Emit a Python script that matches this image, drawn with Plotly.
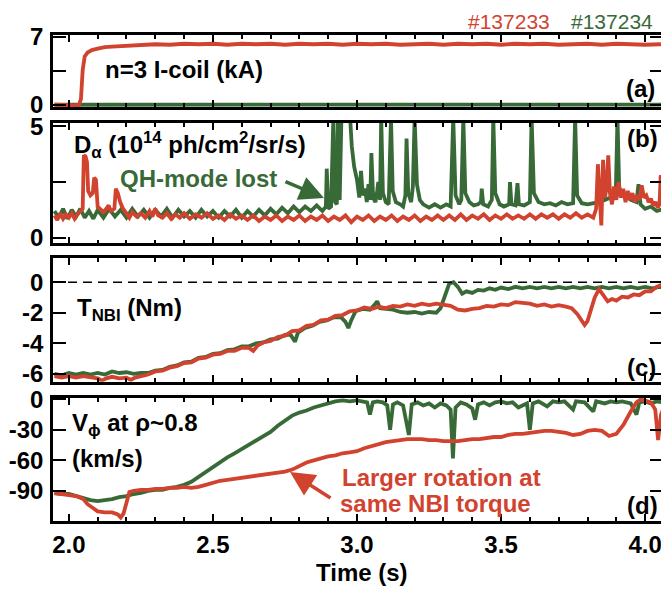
import plotly.graph_objects as go

RED = "#d2432f"
GREEN = "#386a38"
FONT = "Liberation Sans"

# ---------------- panel (a): n=3 I-coil current (kA) ----------------
a_red_t = [1.95, 1.975, 2.0, 2.02, 2.035, 2.042, 2.048, 2.055, 2.065, 2.08,
           2.1, 2.125, 2.15, 2.2, 2.25, 2.3, 2.35, 2.4, 2.45, 2.5,
           2.55, 2.6, 2.65, 2.7, 2.75, 2.8, 2.85, 2.9, 2.95, 3.0,
           3.05, 3.1, 3.15, 3.2, 3.25, 3.3, 3.35, 3.4, 3.45, 3.5,
           3.55, 3.6, 3.65, 3.7, 3.75, 3.8, 3.85, 3.9, 3.95, 4.0,
           4.05, 4.07]
a_red_v = [0.03, -0.02, 0.02, -0.03, 0.01, 0.6, 3.6, 5.0, 5.4, 5.65,
           5.8, 5.95, 6.0, 6.1, 6.2, 6.25, 6.2, 6.3, 6.25, 6.3,
           6.2, 6.3, 6.25, 6.3, 6.2, 6.3, 6.25, 6.3, 6.2, 6.3,
           6.25, 6.3, 6.2, 6.25, 6.3, 6.2, 6.3, 6.25, 6.3, 6.2,
           6.3, 6.25, 6.3, 6.2, 6.25, 6.3, 6.2, 6.3, 6.25, 6.2,
           6.25, 6.2]
a_green_t = [1.95, 2.1, 2.3, 2.5, 2.7, 2.9, 3.1, 3.3, 3.5, 3.7, 3.9, 4.07]
a_green_v = [0.03, 0.05, 0.04, 0.06, 0.05, 0.04, 0.06, 0.05, 0.04, 0.06, 0.05, 0.05]

# ---------------- panel (b): D-alpha ----------------
b_red = [(1.95,1.0),(1.96,0.8),(1.97,1.1),(1.98,0.85),(1.99,1.05),(2.0,0.9),(2.01,1.1),(2.02,0.85),
         (2.03,1.05),(2.04,1.2),(2.048,1.3),(2.052,3.7),(2.058,3.65),(2.063,3.4),(2.067,2.1),(2.075,1.9),
         (2.083,2.0),(2.088,2.7),(2.094,2.6),(2.1,1.4),(2.11,1.25),(2.12,1.15),(2.13,1.3),(2.138,1.45),
         (2.146,1.2),(2.158,1.3),(2.163,2.2),(2.17,2.0),(2.178,1.6),(2.188,1.3),(2.2,1.1),(2.21,0.9),
         (2.22,1.15),(2.235,0.95),(2.25,1.1),(2.265,0.9),(2.28,1.2),(2.29,0.95),(2.3,1.3),(2.31,1.0),
         (2.325,0.9),(2.34,1.1),(2.355,0.85),(2.37,1.05),(2.385,0.9),(2.4,1.1),(2.42,0.85),(2.44,1.05),
         (2.46,0.9),(2.48,1.1),(2.5,0.85),(2.52,1.0),(2.54,0.8),(2.56,1.05),(2.58,0.85),(2.6,1.0),
         (2.62,0.8),(2.64,1.0),(2.66,0.75),(2.68,0.95),(2.7,0.8),(2.72,1.0),(2.74,0.75),(2.76,0.95),
         (2.78,0.8),(2.8,1.0),(2.82,0.75),(2.84,0.95),(2.86,0.8),(2.88,1.0),(2.9,0.75),(2.92,0.95),
         (2.94,0.8),(2.96,1.0),(2.98,0.7),(3.0,0.95),(3.02,0.8),(3.04,1.0),(3.06,0.75),(3.08,0.95),
         (3.1,0.8),(3.12,1.0),(3.14,0.75),(3.16,0.95),(3.18,0.8),(3.2,1.0),(3.22,0.75),(3.24,0.95),
         (3.26,0.8),(3.28,1.0),(3.3,0.8),(3.32,1.0),(3.34,0.8),(3.36,1.05),(3.38,0.8),(3.4,1.0),
         (3.42,0.85),(3.44,1.05),(3.46,0.8),(3.48,1.0),(3.5,0.85),(3.52,1.05),(3.54,0.85),(3.56,1.0),
         (3.58,0.85),(3.6,1.05),(3.62,0.85),(3.64,1.05),(3.66,0.9),(3.68,1.05),(3.7,0.85),(3.72,1.05),
         (3.74,0.9),(3.76,1.1),(3.78,0.9),(3.8,1.05),(3.82,0.9),(3.83,1.3),(3.836,3.3),(3.842,1.6),
         (3.848,0.55),(3.854,3.5),(3.86,1.8),(3.866,2.2),(3.872,3.7),(3.878,2.0),(3.885,1.5),(3.892,2.3),
         (3.9,1.7),(3.908,2.5),(3.916,1.8),(3.924,2.2),(3.932,1.6),(3.94,2.1),(3.948,1.7),(3.956,2.0),
         (3.964,1.6),(3.972,1.9),(3.98,1.7),(3.988,2.35),(3.996,1.8),(4.004,1.9),(4.012,1.6),(4.02,1.75),
         (4.028,1.45),(4.036,1.6),(4.044,1.35),(4.05,1.5),(4.054,2.8),(4.058,2.7),(4.065,1.4)]
b_green = [(1.95,1.2),(1.965,0.9),(1.98,1.3),(1.995,0.85),(2.01,1.25),(2.025,0.95),(2.04,1.3),(2.055,0.9),
           (2.07,1.2),(2.085,0.85),(2.1,1.25),(2.12,0.9),(2.14,1.3),(2.16,0.95),(2.18,1.25),(2.2,0.9),
           (2.22,1.3),(2.24,0.95),(2.26,1.25),(2.28,0.9),(2.3,1.25),(2.32,0.95),(2.34,1.3),(2.36,0.9),
           (2.38,1.25),(2.4,0.95),(2.42,1.2),(2.44,0.9),(2.46,1.25),(2.48,0.95),(2.5,1.2),(2.52,0.9),
           (2.54,1.2),(2.56,0.95),(2.58,1.25),(2.6,0.9),(2.62,1.2),(2.64,0.95),(2.66,1.25),(2.68,1.0),
           (2.7,1.3),(2.72,1.05),(2.74,1.35),(2.76,1.1),(2.78,1.4),(2.8,1.15),(2.82,1.4),(2.84,1.2),
           (2.86,1.45),(2.88,1.2),(2.892,1.4),(2.895,3.1),(2.9,1.3),(2.91,1.4),(2.918,5.4),(2.924,1.6),
           (2.93,1.5),(2.934,5.4),(2.94,1.7),(2.946,5.4),(2.976,5.4),(2.982,4.1),(2.99,3.2),(3.0,2.6),
           (3.008,1.8),(3.014,3.0),(3.02,1.9),(3.028,2.2),(3.034,1.6),(3.04,2.4),(3.046,1.7),(3.05,3.8),
           (3.056,1.8),(3.064,1.6),(3.07,2.1),(3.074,2.5),(3.08,1.7),(3.084,5.4),(3.09,2.0),(3.1,1.6),
           (3.11,1.5),(3.118,5.4),(3.124,2.1),(3.135,1.6),(3.15,1.5),(3.16,1.4),(3.168,1.9),(3.172,4.45),
           (3.178,2.0),(3.188,1.6),(3.194,2.3),(3.2,5.4),(3.208,2.4),(3.218,1.7),(3.23,1.5),(3.25,1.35),
           (3.27,1.5),(3.29,1.35),(3.31,1.5),(3.325,1.4),(3.334,5.4),(3.342,1.9),(3.355,1.5),(3.362,1.7),
           (3.369,5.4),(3.376,2.0),(3.39,1.6),(3.405,1.45),(3.42,1.5),(3.43,1.6),(3.433,2.2),(3.438,1.5),
           (3.455,1.4),(3.468,1.7),(3.473,5.4),(3.48,2.0),(3.495,1.5),(3.51,1.4),(3.528,1.5),(3.531,2.5),
           (3.536,1.5),(3.55,1.45),(3.557,2.45),(3.562,1.5),(3.58,1.45),(3.6,1.6),(3.606,5.4),(3.614,2.0),
           (3.63,1.6),(3.65,1.5),(3.67,1.55),(3.69,1.45),(3.71,1.6),(3.73,1.5),(3.75,1.55),(3.757,5.4),
           (3.764,1.9),(3.78,1.55),(3.8,1.5),(3.82,1.55),(3.84,1.6),(3.86,1.7),(3.88,1.8),(3.898,1.9),
           (3.904,5.4),(3.91,2.2),(3.93,1.9),(3.95,1.7),(3.97,1.6),(3.977,2.4),(3.984,1.5),(4.0,1.3),
           (4.02,1.4),(4.04,1.2),(4.065,1.3)]

# ---------------- panel (c): NBI torque (Nm) ----------------
c_red = [(1.95,-6.15),(1.975,-6.25),(2.0,-6.15),(2.025,-6.25),(2.05,-6.15),(2.075,-6.25),(2.1,-6.3),
         (2.115,-6.45),(2.13,-6.3),(2.15,-6.2),(2.175,-6.3),(2.2,-6.25),(2.215,-6.4),(2.23,-6.25),
         (2.25,-6.15),(2.275,-6.05),(2.3,-5.85),(2.325,-5.8),(2.35,-5.6),(2.375,-5.5),(2.4,-5.3),
         (2.425,-5.25),(2.45,-5.0),(2.475,-4.95),(2.5,-4.75),(2.525,-4.7),(2.55,-4.5),(2.575,-4.5),
         (2.6,-4.3),(2.625,-4.3),(2.64,-4.5),(2.655,-4.15),(2.675,-3.95),(2.7,-3.85),(2.725,-3.6),
         (2.75,-3.5),(2.775,-3.2),(2.8,-3.15),(2.825,-2.85),(2.85,-2.8),(2.875,-2.5),(2.9,-2.45),
         (2.925,-2.2),(2.95,-2.15),(2.975,-1.9),(3.0,-1.85),(3.025,-1.65),(3.05,-1.75),(3.075,-1.6),
         (3.1,-1.7),(3.125,-1.55),(3.15,-1.6),(3.175,-1.45),(3.2,-1.55),(3.225,-1.4),(3.25,-1.5),
         (3.275,-1.4),(3.3,-1.5),(3.325,-1.55),(3.35,-1.8),(3.375,-1.85),(3.4,-1.75),(3.425,-1.7),
         (3.45,-1.55),(3.475,-1.6),(3.5,-1.45),(3.525,-1.5),(3.55,-1.3),(3.575,-1.35),(3.6,-1.4),
         (3.625,-1.55),(3.65,-1.45),(3.675,-1.6),(3.7,-1.5),(3.725,-1.6),(3.745,-1.7),(3.765,-2.1),
         (3.78,-2.55),(3.79,-2.8),(3.8,-2.55),(3.81,-1.9),(3.825,-1.0),(3.84,-0.45),(3.855,-0.8),
         (3.87,-1.25),(3.885,-1.1),(3.9,-1.2),(3.92,-0.95),(3.94,-1.0),(3.96,-0.8),(3.98,-0.85),
         (4.0,-0.6),(4.02,-0.6),(4.04,-0.3),(4.055,-0.15),(4.065,-0.1)]
c_green = [(1.95,-6.0),(1.975,-6.1),(2.0,-5.95),(2.025,-6.05),(2.05,-5.95),(2.075,-6.05),(2.1,-5.95),
           (2.125,-6.05),(2.15,-5.85),(2.175,-5.95),(2.2,-5.9),(2.225,-6.0),(2.25,-5.95),(2.275,-5.95),
           (2.3,-5.8),(2.325,-5.75),(2.35,-5.55),(2.375,-5.45),(2.4,-5.25),(2.425,-5.2),(2.45,-4.95),
           (2.475,-4.9),(2.5,-4.7),(2.525,-4.65),(2.55,-4.45),(2.575,-4.4),(2.6,-4.2),(2.625,-4.2),
           (2.65,-4.0),(2.675,-3.95),(2.7,-3.75),(2.725,-3.7),(2.75,-3.45),(2.77,-3.45),(2.785,-3.9),
           (2.795,-3.3),(2.82,-3.0),(2.845,-2.85),(2.87,-2.6),(2.895,-2.5),(2.92,-2.3),(2.945,-2.3),
           (2.96,-2.6),(2.97,-3.0),(2.98,-2.5),(2.995,-1.9),(3.02,-1.75),(3.045,-1.8),(3.06,-1.5),
           (3.07,-1.25),(3.08,-1.7),(3.1,-1.75),(3.125,-1.8),(3.15,-1.95),(3.175,-2.0),(3.2,-1.95),
           (3.225,-2.05),(3.25,-1.95),(3.275,-2.0),(3.29,-1.7),(3.305,-0.8),(3.32,-0.1),(3.335,0.0),
           (3.35,-0.3),(3.365,-0.75),(3.38,-0.6),(3.4,-0.7),(3.42,-0.5),(3.44,-0.55),(3.46,-0.4),
           (3.48,-0.5),(3.5,-0.35),(3.525,-0.45),(3.55,-0.3),(3.575,-0.4),(3.6,-0.3),(3.625,-0.4),
           (3.65,-0.3),(3.675,-0.4),(3.7,-0.3),(3.725,-0.4),(3.75,-0.3),(3.775,-0.4),(3.8,-0.3),
           (3.825,-0.4),(3.85,-0.3),(3.875,-0.4),(3.9,-0.3),(3.925,-0.4),(3.95,-0.3),(3.975,-0.4),
           (4.0,-0.3),(4.025,-0.4),(4.05,-0.3),(4.065,-0.35)]

# ---------------- panel (d): V_phi at rho~0.8 (km/s) ----------------
d_green = [(1.95,-92),(1.975,-93),(2.0,-93),(2.025,-95),(2.05,-97),(2.075,-99),(2.1,-100),(2.125,-99),
           (2.15,-98),(2.175,-96),(2.2,-95),(2.225,-93),(2.25,-92),(2.275,-90),(2.3,-89),(2.325,-89),
           (2.35,-87),(2.375,-86),(2.4,-84),(2.425,-81),(2.45,-76),(2.475,-71),(2.5,-67),(2.525,-62),
           (2.55,-57),(2.575,-53),(2.6,-49),(2.625,-45),(2.65,-41),(2.675,-36),(2.7,-32),(2.725,-26),
           (2.75,-21),(2.775,-16),(2.8,-13),(2.825,-11),(2.85,-8),(2.875,-6),(2.9,-4),(2.925,-2),
           (2.95,-1),(2.975,-2),(3.0,-1),(3.02,-2),(3.035,-3),(3.045,-15),(3.055,-3),(3.07,-2),
           (3.09,-3),(3.105,-6),(3.115,-30),(3.125,-5),(3.14,-3),(3.16,-6),(3.18,-35),(3.19,-5),
           (3.21,-3),(3.23,-6),(3.25,-4),(3.27,-8),(3.29,-4),(3.31,-6),(3.325,-10),(3.333,-58),
           (3.342,-8),(3.36,-3),(3.38,-5),(3.4,-9),(3.41,-20),(3.42,-5),(3.44,-3),(3.46,-6),
           (3.48,-3),(3.5,-2),(3.52,-4),(3.54,-3),(3.56,-8),(3.59,-4),(3.6,-30),(3.61,-4),
           (3.63,-2),(3.66,-7),(3.68,-2),(3.7,-3),(3.72,-2),(3.75,-10),(3.76,-2),(3.79,-3),
           (3.82,-12),(3.83,-2),(3.86,-4),(3.88,-2),(3.9,-3),(3.92,-2),(3.95,-4),(3.97,-15),
           (3.98,-3),(4.0,-2),(4.02,-4),(4.04,-2),(4.065,-3)]
d_red = [(1.95,-92),(1.975,-93),(2.0,-94),(2.025,-95),(2.05,-98),(2.065,-103),(2.08,-106),(2.1,-110),
         (2.125,-111),(2.15,-111),(2.17,-113),(2.18,-116),(2.19,-112),(2.2,-101),(2.21,-91),(2.225,-90),
         (2.25,-89),(2.275,-89),(2.3,-88),(2.325,-88),(2.35,-87),(2.375,-87),(2.4,-86),(2.425,-87),
         (2.45,-86),(2.475,-84),(2.5,-82),(2.525,-80),(2.55,-79),(2.575,-78),(2.6,-77),(2.625,-76),
         (2.65,-75),(2.675,-74),(2.7,-73),(2.725,-72),(2.75,-71),(2.775,-69),(2.8,-65),(2.825,-62),
         (2.85,-60),(2.875,-58),(2.9,-56),(2.925,-55),(2.95,-53),(2.975,-52),(3.0,-51),(3.025,-48),
         (3.05,-46),(3.075,-44),(3.1,-42),(3.125,-41),(3.15,-40),(3.175,-39),(3.2,-39),(3.225,-39),
         (3.25,-40),(3.275,-40),(3.3,-41),(3.325,-41),(3.35,-41),(3.375,-40),(3.4,-39),(3.425,-39),
         (3.45,-38),(3.475,-37),(3.5,-37),(3.525,-35),(3.55,-34),(3.575,-34),(3.6,-33),(3.625,-32),
         (3.65,-31),(3.675,-31),(3.7,-32),(3.725,-33),(3.75,-35),(3.775,-34),(3.8,-31),(3.825,-30),
         (3.85,-31),(3.875,-36),(3.9,-34),(3.925,-25),(3.95,-12),(3.97,-3),(3.985,0),(4.0,-1),
         (4.02,-3),(4.035,-10),(4.045,-40),(4.055,-15),(4.065,-8)]

# axis tick definitions
x_range = [1.945, 4.062]
x_tickvals = [2.0, 2.5, 3.0, 3.5, 4.0]
x_ticktext = ["2.0", "2.5", "3.0", "3.5", "4.0"]
ya_vals, ya_minor = [0, 7], [3.5]
yb_vals, yb_minor = [0, 5], [2.5]
yc_vals, yc_minor = [0, -2, -4, -6], []
yd_vals, yd_minor = [0, -30, -60, -90], []

assert len(a_red_t) == len(a_red_v)
assert len(a_green_t) == len(a_green_v)

# ---------------- figure ----------------
# screen-pixel frame of the plot area; the page body adds an 8px offset
OFF = 8
SCR_W, SCR_H = 669, 589
L, R, T, B = 53, 663, 35, 521


def px(x):
    return (x - L) / (R - L)


def py(y):
    return (B - y) / (B - T)


fig = go.Figure()


def add(series_t, series_v, color, k):
    fig.add_trace(go.Scatter(x=series_t, y=series_v, mode="lines",
                             line=dict(color=color, width=3.8),
                             xaxis="x" if k == 1 else f"x{k}",
                             yaxis="y" if k == 1 else f"y{k}",
                             showlegend=False, hoverinfo="skip"))


def split(pairs):
    return [p[0] for p in pairs], [p[1] for p in pairs]


add(a_green_t, a_green_v, GREEN, 1)
add(a_red_t, a_red_v, RED, 1)
add(*split(b_green), GREEN, 2)
add(*split(b_red), RED, 2)
add(*split(c_green), GREEN, 3)
add(*split(c_red), RED, 3)
add(*split(d_green), GREEN, 4)
add(*split(d_red), RED, 4)

tickfont = dict(family=FONT, size=24, color="black", weight="bold")

panels = [
    (35, 107, [-0.2, 7.2], ya_vals, ya_minor),
    (123, 243.3, [-0.25, 5.15], yb_vals, yb_minor),
    (258.3, 381.7, [-6.52, 1.57], yc_vals, yc_minor),
    (398, 521, [-119.5, 1.3], yd_vals, yd_minor),
]

layout = dict(
    width=SCR_W - OFF, height=SCR_H - OFF,
    margin=dict(l=L - OFF, r=SCR_W - R, t=T - OFF, b=SCR_H - B, pad=0),
    paper_bgcolor="white", plot_bgcolor="white",
    showlegend=False,
)

for k, (ytop, ybot, yr, tv, mv) in enumerate(panels, start=1):
    sx = "" if k == 1 else str(k)
    ya = dict(
        domain=[py(ybot), py(ytop)], range=yr, anchor="x" + sx,
        tickmode="array", tickvals=tv, ticktext=[str(v) for v in tv],
        ticks="inside", ticklen=13, tickwidth=2,
        tickcolor="black", showline=True, linewidth=2.5, linecolor="black",
        mirror="ticks", showgrid=False, zeroline=False, tickfont=tickfont,
        ticklabelstandoff=2, automargin=False,
    )
    if mv:
        ya["minor"] = dict(tickmode="array", tickvals=mv, ticks="inside",
                           ticklen=13, tickwidth=2, tickcolor="black", showgrid=False)
    layout["yaxis" + sx] = ya
    xa = dict(
        domain=[0, 1], range=x_range, anchor="y" + sx,
        tickmode="array", tickvals=x_tickvals, ticktext=x_ticktext,
        ticks="inside", ticklen=7,
        tickwidth=2, tickcolor="black", showline=True, linewidth=2.5,
        linecolor="black", mirror="ticks", showgrid=False, zeroline=False,
        showticklabels=(k == 4), tickfont=tickfont, automargin=False,
        minor=dict(dtick=0.1, tick0=2.0, ticks="inside", ticklen=4,
                   tickwidth=1.5, tickcolor="black", showgrid=False),
    )
    if k > 1:
        xa["matches"] = "x"
    layout["xaxis" + sx] = xa

fig.update_layout(**layout)

# dashed zero line in panel (c)
fig.add_shape(type="line", xref="x3 domain", yref="y3", x0=0, x1=1, y0=0, y1=0,
              line=dict(color="black", width=1.3, dash="9px,6px"))

txt = dict(family=FONT, size=24, color="black", weight="bold")
red_txt = dict(family=FONT, size=24, color=RED, weight="bold")
green_txt = dict(family=FONT, size=24, color=GREEN, weight="bold")
hdr_red = dict(family=FONT, size=21, color=RED)
hdr_green = dict(family=FONT, size=21, color=GREEN)


def note(text, x, y, font, xanchor="left", yanchor="middle"):
    fig.add_annotation(text=text, x=px(x), y=py(y), xref="paper", yref="paper",
                       xanchor=xanchor, yanchor=yanchor, showarrow=False, font=font)


note("#137233", 552, 22, hdr_red, xanchor="right")
note("#137234", 655, 22, hdr_green, xanchor="right")
note("n=3 I-coil (kA)", 103, 70, txt)
note("(a)", 657, 88, txt, xanchor="right")
note("D<sub>α</sub> (10<sup>14</sup> ph/cm<sup>2</sup>/sr/s)", 72, 145, txt)
note("QH-mode lost", 118, 178, green_txt)
note("(b)", 660, 138, txt, xanchor="right")
note("T<sub>NBI</sub> (Nm)", 75, 310, txt)
note("(c)", 658, 367, txt, xanchor="right")
note("V<sub>ϕ</sub> at ρ~0.8", 70, 424, txt)
note("(km/s)", 70, 458, txt)
note("Larger rotation at", 340, 477, red_txt)
note("same NBI torque", 338, 503, red_txt)
note("(d)", 660, 505, txt, xanchor="right")
note("Time (s)", 362, 572, txt, xanchor="center")

# arrows
fig.add_annotation(x=px(324), y=py(198), xref="paper", yref="paper", text="",
                   showarrow=True, ax=-40, ay=-17, arrowhead=2, arrowsize=1.4,
                   arrowwidth=3.5, arrowcolor=GREEN)
fig.add_annotation(x=px(290), y=py(472), xref="paper", yref="paper", text="",
                   showarrow=True, ax=42, ay=27, arrowhead=2, arrowsize=1.4,
                   arrowwidth=3.5, arrowcolor=RED)

fig.write_html("out.html")
